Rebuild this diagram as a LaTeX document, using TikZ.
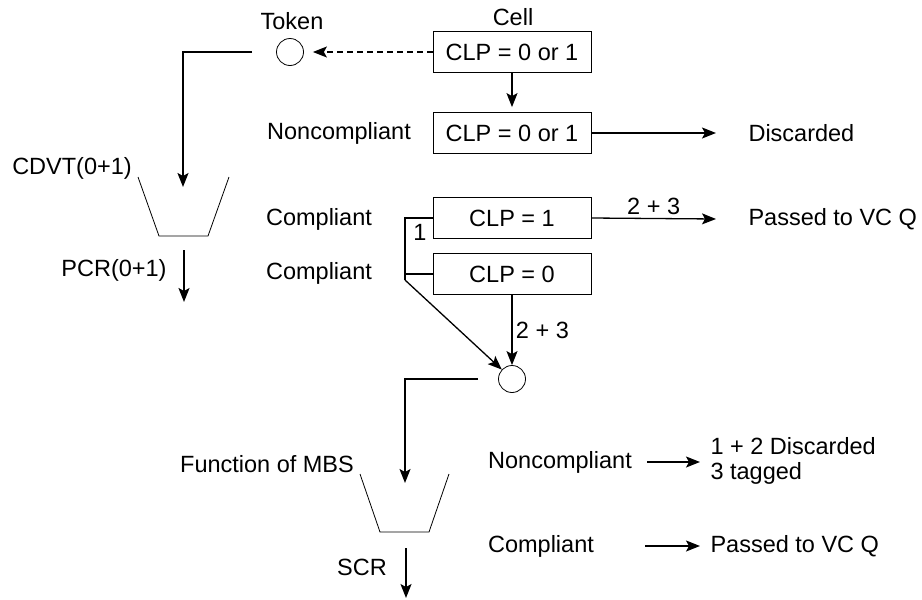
\documentclass[tikz,border=0pt]{standalone}
\usepackage{fontspec}
\setmainfont{Liberation Sans}
\usetikzlibrary{arrows.meta}

\begin{document}
\begin{tikzpicture}[x=1pt,y=-1pt,font=\fontsize{23.5}{24}\selectfont,
    >={Stealth[length=14pt,width=11pt,inset=3pt]}]

      \useasboundingbox (0,0) rectangle (922,600);

      \begin{scope}[every node/.style={draw,line width=0.8pt,minimum width=158pt,minimum height=41pt,inner sep=0pt}]
        \node (cell) at (512,52)  {CLP = 0 or 1};
        \node (nonc) at (512,133) {CLP = 0 or 1};
        \node (clp1) at (512,218) {CLP = 1};
        \node (clp0) at (512,274) {CLP = 0};
      \end{scope}

      \begin{scope}[every node/.style={circle,draw,line width=0.8pt,minimum size=27pt,inner sep=0pt}]
        \node (token) at (290,52)  {};
        \node (sum)   at (512,379) {};
      \end{scope}

      \node (celltxt) at (513,17)  {Cell};
      \node (toktxt)  at (292,21)  {Token};
      \node (cdvt)    at (72,168)  {CDVT(0+1)};
      \node (pcr)     at (114,270) {PCR(0+1)};
      \node (ncA)     at (339,133) {Noncompliant};
      \node (cpA)     at (319,219) {Compliant};
      \node (cpB)     at (319,273) {Compliant};
      \node[anchor=west] (disc) at (745,133) {Discarded};
      \node[anchor=west] (pass) at (745,219) {Passed to VC Q};
      \node (mbs)     at (267,464) {Function of MBS};
      \node (scr)     at (362,567) {SCR};
      \node (ncB)     at (560,462) {Noncompliant};
      \node (cpC)     at (541,546) {Compliant};
      \node[anchor=west,align=left,font=\fontsize{23.5}{25}\selectfont] (discB) at (707,461) {1 + 2 Discarded\\3 tagged};
      \node[anchor=west] (passB) at (707,546) {Passed to VC Q};

      % buckets
      \draw[line width=0.8pt] (138,177) -- (159,236) -- (208,236) -- (229,177);
      \draw[line width=0.8pt] (360,474) -- (380,532) -- (429,532) -- (449,474);

      \coordinate (tokout) at (252,52);
      \coordinate (cdvtin) at (183,187);
      \coordinate (pcrtop) at (184,250);
      \coordinate (pcrend) at (184,302);
      \coordinate (split)  at (405,280);
      \coordinate (sumout) at (478,379);
      \coordinate (mbsin)  at (405,483);
      \coordinate (scrtop) at (406,548);
      \coordinate (scrend) at (406,598);

      \begin{scope}[line width=1.3pt]
        \draw[->,dashed,dash pattern=on 6pt off 4pt,shorten >=9pt] (cell) -- (token);
        \draw[->,shorten >=5pt] (cell) -- (nonc);
        \draw[->] (nonc.east) -- (716,133);
        \draw[->] (clp1.east) -- node[above] {2 + 3} (716,219);
        \draw[->] (tokout) -| (cdvtin);
        \draw[->] (pcrtop) -- (pcrend);
        \draw (clp1.west) -| (split);
        \draw (split |- clp0) -- (clp0.west);
        \draw[->] (split) -- (sum);
        \draw[->] (clp0) -- node[right] {2 + 3} (sum);
        \draw[->] (sumout) -| (mbsin);
        \draw[->] (scrtop) -- (scrend);
        \draw[->] (ncB.east) ++(12,0) -- (700,462);
        \draw[->] (645,546) -- (700,546);
      \end{scope}

      \node (one) at (420,232) {1};

    \end{tikzpicture}
\end{document}
